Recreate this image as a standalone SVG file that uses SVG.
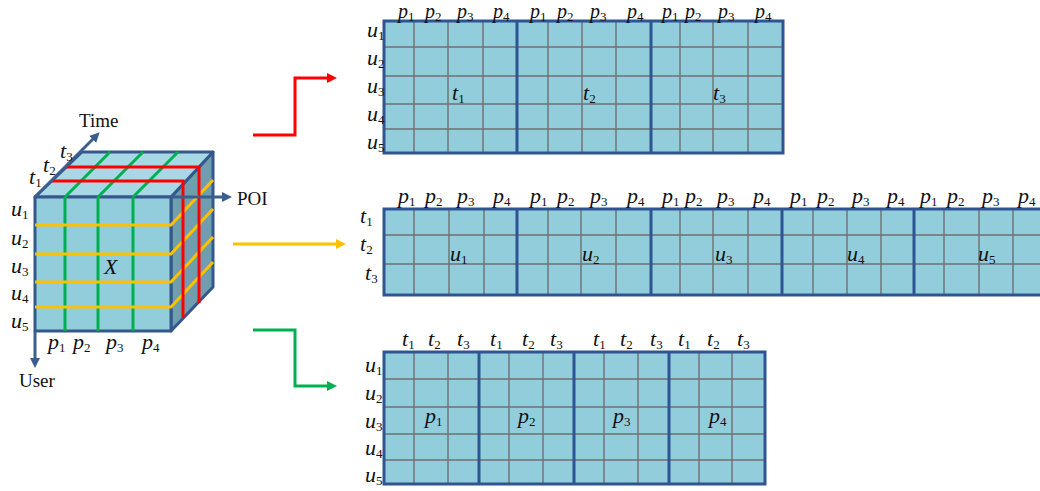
<svg xmlns="http://www.w3.org/2000/svg" width="1040" height="491" viewBox="0 0 1040 491">
<style>
.m{font-family:"Liberation Serif","Times New Roman",serif;font-style:italic;font-size:22px;fill:#111}
.tp{font-size:20px}
.s{font-style:normal;font-size:13px}
.w{font-family:"Liberation Serif","Times New Roman",serif;font-size:19px;fill:#111}
.cell{fill:#92CDDC;stroke:none}
.thin{stroke:#707070;stroke-width:1.4;fill:none}
.thick{stroke:#2E5592;stroke-width:3;fill:none}
.edge{stroke:#34588C;stroke-width:3;stroke-linejoin:round}
.ax{stroke:#3A5F8F;stroke-width:3;fill:none}
.g{stroke:#00B050;stroke-width:3;fill:none}
.y{stroke:#FFC000;stroke-width:3;fill:none}
.r{stroke:#FF0000;stroke-width:3;fill:none}
</style>
<defs>
<marker id="ab" markerUnits="userSpaceOnUse" markerWidth="12" markerHeight="12" refX="2" refY="5" orient="auto"><path d="M0,0 L10,5 L0,10 z" fill="#3A5F8F"/></marker>
<marker id="ar" markerUnits="userSpaceOnUse" markerWidth="12" markerHeight="12" refX="2" refY="5" orient="auto"><path d="M0,0 L10,5 L0,10 z" fill="#FF0000"/></marker>
<marker id="ay" markerUnits="userSpaceOnUse" markerWidth="12" markerHeight="12" refX="2" refY="5" orient="auto"><path d="M0,0 L10,5 L0,10 z" fill="#FFC000"/></marker>
<marker id="ag" markerUnits="userSpaceOnUse" markerWidth="12" markerHeight="12" refX="2" refY="5" orient="auto"><path d="M0,0 L10,5 L0,10 z" fill="#00B050"/></marker>
</defs>
<rect width="1040" height="491" fill="#fff"/>

<g id="cube">
<polygon class="edge" points="171,197 213,152 213,287 171,331" fill="#6F9FAE"/>
<polygon class="edge" points="35,197 82,152 213,152 171,197" fill="#A8D7E5"/>
<rect class="edge" x="35" y="197" width="136" height="134" fill="#92CDDC"/>
<path class="g" d="M65,197V331M98,197V331M133,197V331M65,197L110,152M98,197L143,152M133,197L178,152"/>
<path class="y" d="M35,225H171L213,180M35,254H171L213,209M35,282H171L213,237M35,307H171L213,262"/>
<path class="r" d="M51,181H183V318M66,167H199V303"/>
<path class="ax" d="M35,197L94,138" marker-end="url(#ab)"/>
<path class="ax" d="M171,197H224" marker-end="url(#ab)"/>
<path class="ax" d="M35,331V360" marker-end="url(#ab)"/>
<text class="w" x="79" y="127">Time</text>
<text class="w" x="237" y="205">POI</text>
<text class="w" x="19" y="387">User</text>
<text class="m" x="104" y="274">X</text>
<text class="m" x="29" y="184">t<tspan class="s" dy="3">1</tspan></text>
<text class="m" x="43" y="172">t<tspan class="s" dy="3">2</tspan></text>
<text class="m" x="60" y="158">t<tspan class="s" dy="3">3</tspan></text>
<text class="m" x="11" y="216">u<tspan class="s" dy="3">1</tspan></text>
<text class="m" x="11" y="245">u<tspan class="s" dy="3">2</tspan></text>
<text class="m" x="11" y="273">u<tspan class="s" dy="3">3</tspan></text>
<text class="m" x="11" y="300">u<tspan class="s" dy="3">4</tspan></text>
<text class="m" x="11" y="328">u<tspan class="s" dy="3">5</tspan></text>
<text class="m" x="48" y="349">p<tspan class="s" dy="3">1</tspan></text>
<text class="m" x="73" y="349">p<tspan class="s" dy="3">2</tspan></text>
<text class="m" x="106" y="349">p<tspan class="s" dy="3">3</tspan></text>
<text class="m" x="142" y="349">p<tspan class="s" dy="3">4</tspan></text>
</g>

<g id="connectors">
<path class="r" d="M253,135H295V78H329" marker-end="url(#ar)"/>
<path class="y" d="M233,244H338" marker-end="url(#ay)"/>
<path class="g" d="M253,330H295V386H329" marker-end="url(#ag)"/>
</g>

<g id="grid-time">
<rect class="cell" x="384" y="21" width="399" height="132"/>
<path class="thin" d="M414,21V153M448,21V153M483,21V153M548,21V153M582,21V153M616,21V153M680,21V153M713,21V153M748,21V153M384,47H783M384,76H783M384,104H783M384,129H783"/>
<path class="thick" d="M517,21V153M651,21V153"/>
<rect class="thick" x="384" y="21" width="399" height="132"/>
<text class="m tp" y="17.5"><tspan x="398">p</tspan><tspan class="s" dy="3">1</tspan><tspan x="425" dy="-3">p</tspan><tspan class="s" dy="3">2</tspan><tspan x="457" dy="-3">p</tspan><tspan class="s" dy="3">3</tspan><tspan x="493" dy="-3">p</tspan><tspan class="s" dy="3">4</tspan></text>
<text class="m tp" y="17.5"><tspan x="530">p</tspan><tspan class="s" dy="3">1</tspan><tspan x="557" dy="-3">p</tspan><tspan class="s" dy="3">2</tspan><tspan x="590" dy="-3">p</tspan><tspan class="s" dy="3">3</tspan><tspan x="627" dy="-3">p</tspan><tspan class="s" dy="3">4</tspan></text>
<text class="m tp" y="17.5"><tspan x="662">p</tspan><tspan class="s" dy="3">1</tspan><tspan x="685" dy="-3">p</tspan><tspan class="s" dy="3">2</tspan><tspan x="718" dy="-3">p</tspan><tspan class="s" dy="3">3</tspan><tspan x="755" dy="-3">p</tspan><tspan class="s" dy="3">4</tspan></text>
<text class="m" x="367" y="37">u<tspan class="s" dy="3">1</tspan></text>
<text class="m" x="367" y="65">u<tspan class="s" dy="3">2</tspan></text>
<text class="m" x="367" y="93">u<tspan class="s" dy="3">3</tspan></text>
<text class="m" x="367" y="121">u<tspan class="s" dy="3">4</tspan></text>
<text class="m" x="367" y="149">u<tspan class="s" dy="3">5</tspan></text>
<text class="m" x="452" y="100">t<tspan class="s" dy="3">1</tspan></text>
<text class="m" x="583" y="100">t<tspan class="s" dy="3">2</tspan></text>
<text class="m" x="713" y="100">t<tspan class="s" dy="3">3</tspan></text>
</g>

<g id="grid-user">
<rect class="cell" x="384" y="209" width="664" height="86"/>
<path class="thin" d="M414,209V295M449,209V295M484,209V295M548,209V295M581,209V295M616,209V295M680,209V295M713,209V295M748,209V295M813,209V295M847,209V295M881,209V295M944,209V295M979,209V295M1013,209V295M384,235H1048M384,264H1048"/>
<path class="thick" d="M517,209V295M651,209V295M782,209V295M914,209V295"/>
<rect class="thick" x="384" y="209" width="664" height="86"/>
<text class="m" y="203"><tspan x="398">p</tspan><tspan class="s" dy="3">1</tspan><tspan x="425" dy="-3">p</tspan><tspan class="s" dy="3">2</tspan><tspan x="457" dy="-3">p</tspan><tspan class="s" dy="3">3</tspan><tspan x="493" dy="-3">p</tspan><tspan class="s" dy="3">4</tspan></text>
<text class="m" y="203"><tspan x="530">p</tspan><tspan class="s" dy="3">1</tspan><tspan x="557" dy="-3">p</tspan><tspan class="s" dy="3">2</tspan><tspan x="590" dy="-3">p</tspan><tspan class="s" dy="3">3</tspan><tspan x="627" dy="-3">p</tspan><tspan class="s" dy="3">4</tspan></text>
<text class="m" y="203"><tspan x="662">p</tspan><tspan class="s" dy="3">1</tspan><tspan x="685" dy="-3">p</tspan><tspan class="s" dy="3">2</tspan><tspan x="717" dy="-3">p</tspan><tspan class="s" dy="3">3</tspan><tspan x="753" dy="-3">p</tspan><tspan class="s" dy="3">4</tspan></text>
<text class="m" y="203"><tspan x="790">p</tspan><tspan class="s" dy="3">1</tspan><tspan x="817" dy="-3">p</tspan><tspan class="s" dy="3">2</tspan><tspan x="852" dy="-3">p</tspan><tspan class="s" dy="3">3</tspan><tspan x="887" dy="-3">p</tspan><tspan class="s" dy="3">4</tspan></text>
<text class="m" y="203"><tspan x="920">p</tspan><tspan class="s" dy="3">1</tspan><tspan x="947" dy="-3">p</tspan><tspan class="s" dy="3">2</tspan><tspan x="982" dy="-3">p</tspan><tspan class="s" dy="3">3</tspan><tspan x="1018" dy="-3">p</tspan><tspan class="s" dy="3">4</tspan></text>
<text class="m" x="360" y="223">t<tspan class="s" dy="3">1</tspan></text>
<text class="m" x="360" y="251">t<tspan class="s" dy="3">2</tspan></text>
<text class="m" x="365" y="280">t<tspan class="s" dy="3">3</tspan></text>
<text class="m" x="450" y="261">u<tspan class="s" dy="3">1</tspan></text>
<text class="m" x="582" y="261">u<tspan class="s" dy="3">2</tspan></text>
<text class="m" x="715" y="261">u<tspan class="s" dy="3">3</tspan></text>
<text class="m" x="847" y="261">u<tspan class="s" dy="3">4</tspan></text>
<text class="m" x="978" y="261">u<tspan class="s" dy="3">5</tspan></text>
</g>

<g id="grid-poi">
<rect class="cell" x="384" y="352" width="381" height="132"/>
<path class="thin" d="M414,352V484M448,352V484M509,352V484M543,352V484M604,352V484M638,352V484M699,352V484M732,352V484M384,379H765M384,407H765M384,434H765M384,460H765"/>
<path class="thick" d="M479,352V484M574,352V484M669,352V484"/>
<rect class="thick" x="384" y="352" width="381" height="132"/>
<text class="m" y="346"><tspan x="402">t</tspan><tspan class="s" dy="3">1</tspan><tspan x="428" dy="-3">t</tspan><tspan class="s" dy="3">2</tspan><tspan x="457" dy="-3">t</tspan><tspan class="s" dy="3">3</tspan></text>
<text class="m" y="346"><tspan x="490">t</tspan><tspan class="s" dy="3">1</tspan><tspan x="522" dy="-3">t</tspan><tspan class="s" dy="3">2</tspan><tspan x="550" dy="-3">t</tspan><tspan class="s" dy="3">3</tspan></text>
<text class="m" y="346"><tspan x="593">t</tspan><tspan class="s" dy="3">1</tspan><tspan x="620" dy="-3">t</tspan><tspan class="s" dy="3">2</tspan><tspan x="650" dy="-3">t</tspan><tspan class="s" dy="3">3</tspan></text>
<text class="m" y="346"><tspan x="678">t</tspan><tspan class="s" dy="3">1</tspan><tspan x="707" dy="-3">t</tspan><tspan class="s" dy="3">2</tspan><tspan x="737" dy="-3">t</tspan><tspan class="s" dy="3">3</tspan></text>
<text class="m" x="365" y="372">u<tspan class="s" dy="3">1</tspan></text>
<text class="m" x="365" y="400">u<tspan class="s" dy="3">2</tspan></text>
<text class="m" x="365" y="428">u<tspan class="s" dy="3">3</tspan></text>
<text class="m" x="365" y="455">u<tspan class="s" dy="3">4</tspan></text>
<text class="m" x="365" y="482">u<tspan class="s" dy="3">5</tspan></text>
<text class="m" x="425" y="423">p<tspan class="s" dy="3">1</tspan></text>
<text class="m" x="518" y="423">p<tspan class="s" dy="3">2</tspan></text>
<text class="m" x="613" y="423">p<tspan class="s" dy="3">3</tspan></text>
<text class="m" x="709" y="423">p<tspan class="s" dy="3">4</tspan></text>
</g>
</svg>
